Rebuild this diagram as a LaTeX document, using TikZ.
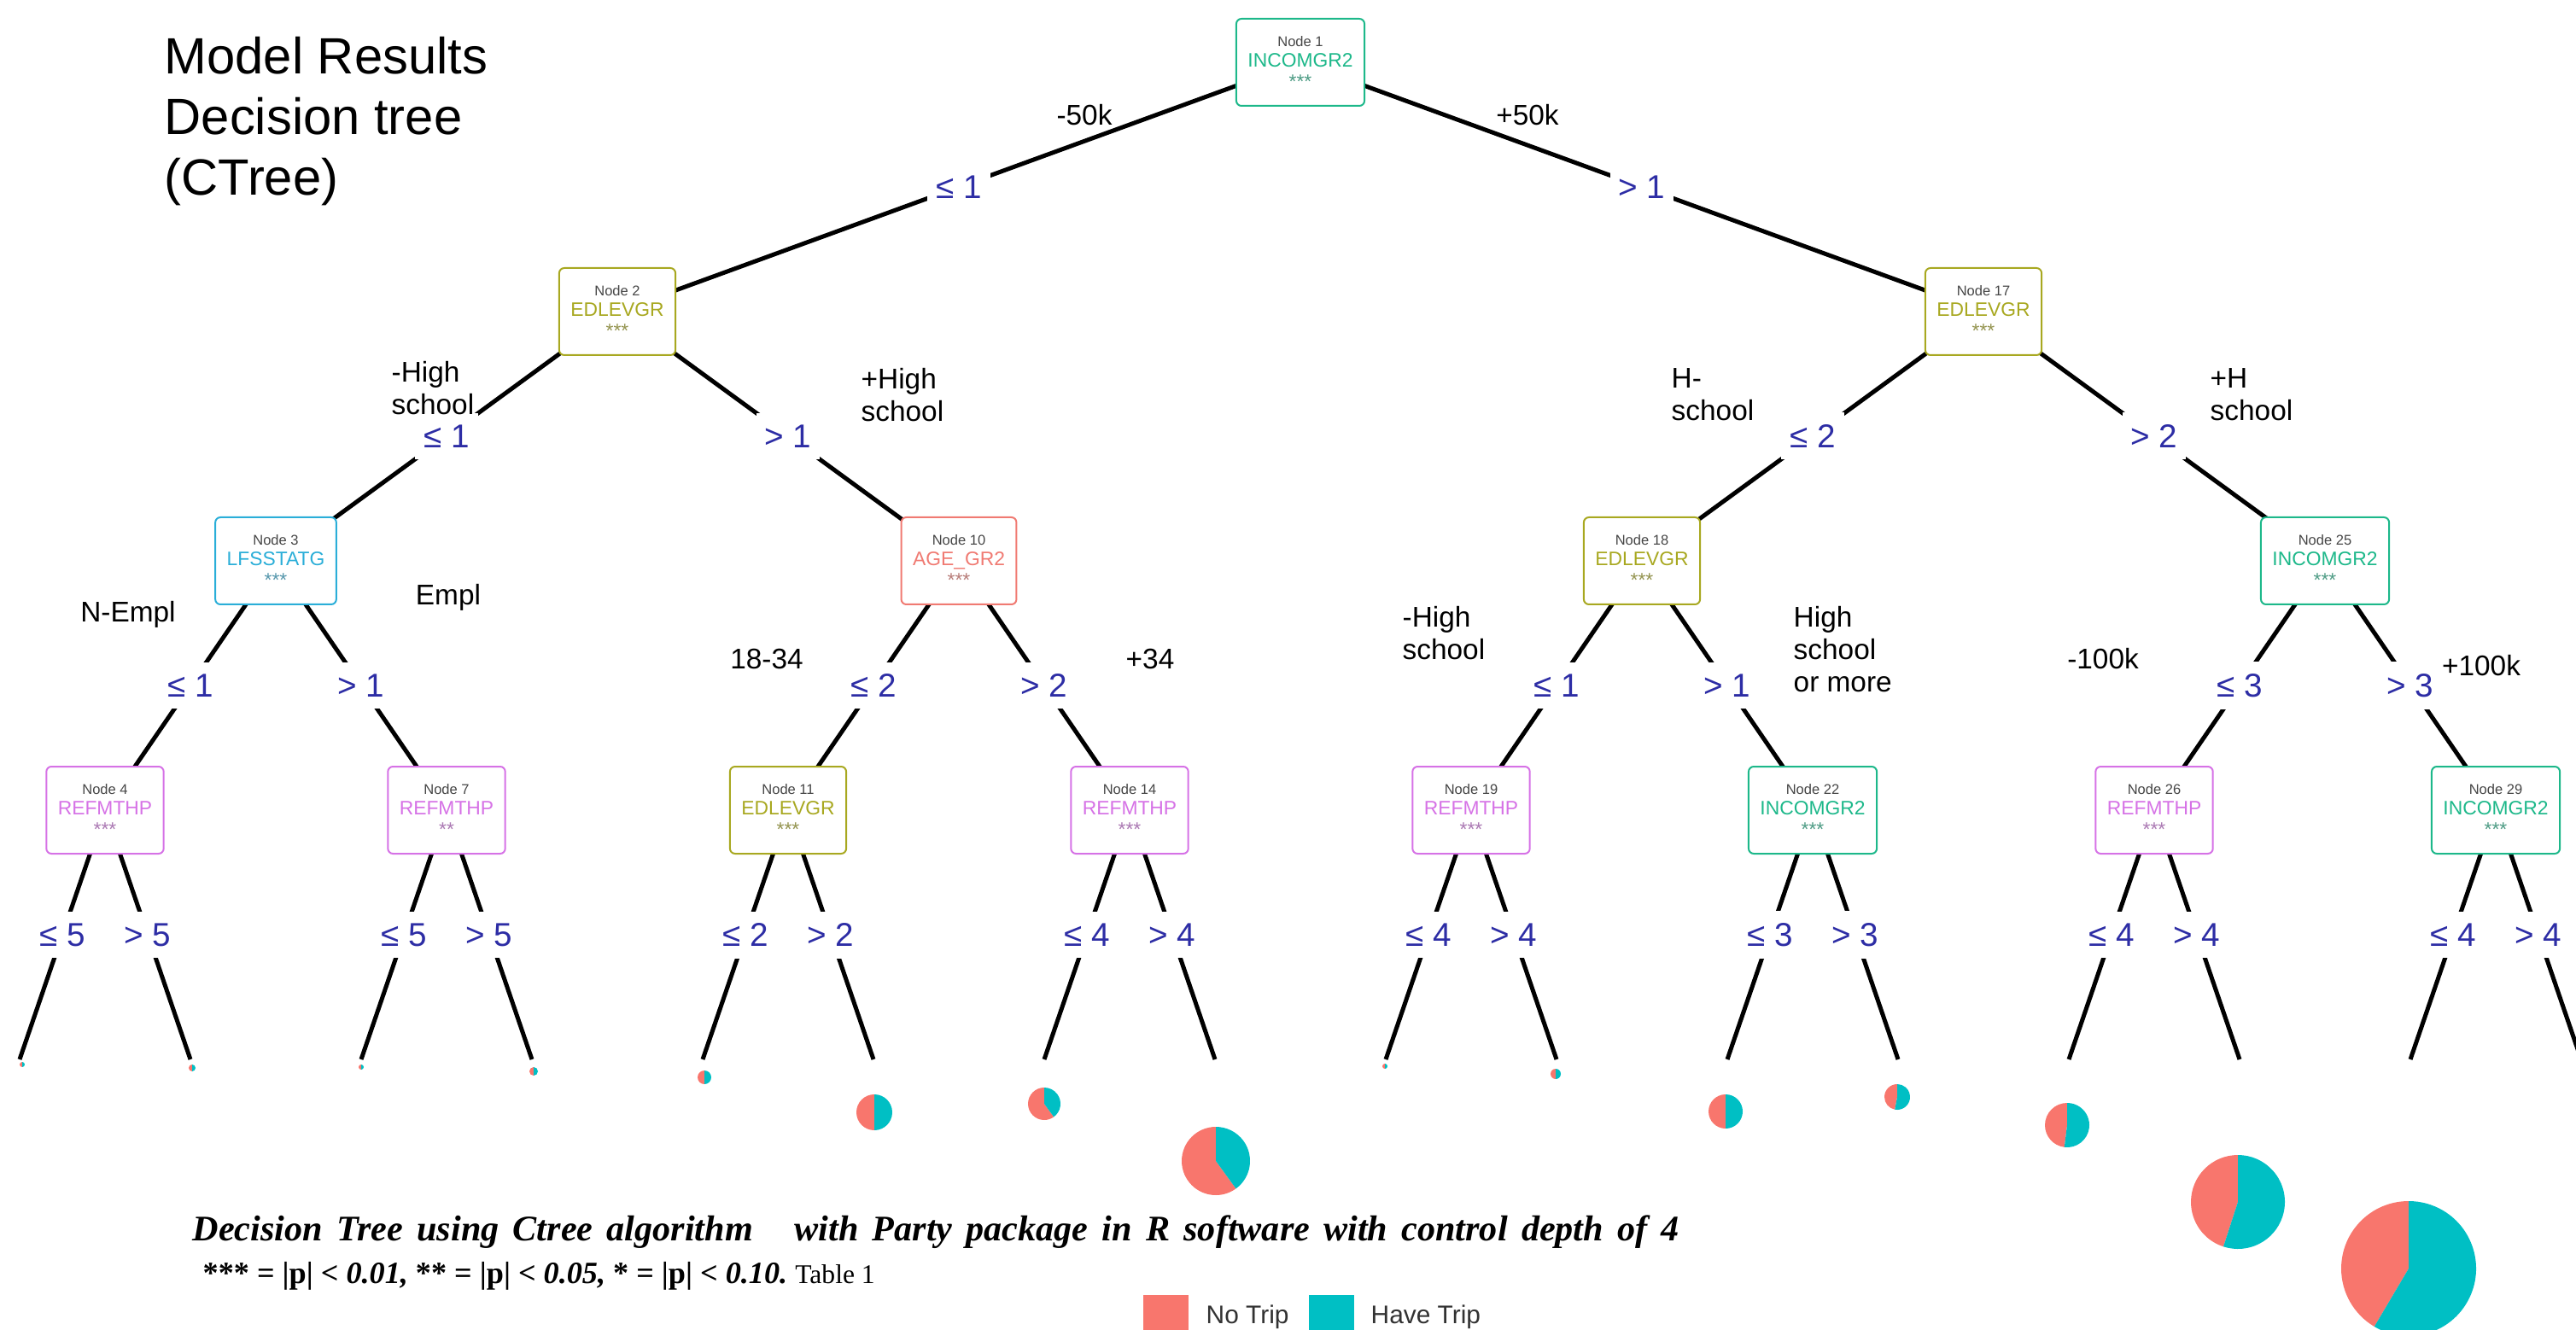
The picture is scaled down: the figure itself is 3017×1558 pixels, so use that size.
\documentclass[tikz,border=0pt]{standalone}
\usepackage{fontspec}
\setmainfont{Liberation Sans}
\newfontfamily\capserif{Liberation Serif}
\usetikzlibrary{backgrounds}

\definecolor{inc}{HTML}{1DB88A}
\definecolor{edu}{HTML}{A8A820}
\definecolor{lfs}{HTML}{2AAED8}
\definecolor{age}{HTML}{F07A72}
\definecolor{ref}{HTML}{D672E6}
\definecolor{notrip}{HTML}{F8766D}
\definecolor{havetrip}{HTML}{00BFC4}
\definecolor{splitblue}{RGB}{45,45,165}
\definecolor{nodegray}{RGB}{70,70,70}
\definecolor{leggray}{RGB}{50,50,50}

\begin{document}
\begin{tikzpicture}[x=0.1mm, y=-0.1mm]
    \tikzstyle{edge}=[line width=0.5mm, black]
    \tikzstyle{splitlab}=[fill=white, text=splitblue, inner xsep=1mm, inner ysep=1.4mm, font=\fontsize{11}{13}\selectfont]
    \tikzstyle{note}=[inner sep=0pt, align=left, font=\fontsize{9.5}{10.8}\selectfont]
    \tikzstyle{legbox}=[minimum size=5.3mm, inner sep=0pt]
    \tikzstyle{legtext}=[anchor=base west, inner sep=0pt, text=leggray, font=\fontsize{8.5}{10}\selectfont]
    \tikzset{%
    varnode/.style={
      draw=#1,
      fill=white,
      rounded corners=0.6mm,
      line width=0.2mm,
      minimum height=10.2mm,
      inner xsep=1.35mm,
      align=center,
      font=\fontsize{6.5}{7.1}\selectfont},
    }

    \useasboundingbox (0,0) rectangle (3017,1558);

    % inner nodes of the tree
    \foreach \n/\x/\y/\lab/\col/\st in {1/1523/73/INCOMGR2/inc/***,
      2/723/365/EDLEVGR/edu/***, 17/2323/365/EDLEVGR/edu/***,
      3/323/657/LFSSTATG/lfs/***, 10/1123/657/AGE\_GR2/age/***,
      18/1923/657/EDLEVGR/edu/***, 25/2723/657/INCOMGR2/inc/***,
      4/123/949/REFMTHP/ref/***, 7/523/949/REFMTHP/ref/**,
      11/923/949/EDLEVGR/edu/***, 14/1323/949/REFMTHP/ref/***,
      19/1723/949/REFMTHP/ref/***, 22/2123/949/INCOMGR2/inc/***,
      26/2523/949/REFMTHP/ref/***, 29/2923/949/INCOMGR2/inc/***}
    \node [varnode=\col] (node-\n) at (\x,\y)
    {{\fontsize{4.7}{7.1}\selectfont\color{nodegray}Node \n}\\ \textcolor{\col}{\lab}\\ \textcolor{\col!50!gray}{\st}};

    % terminal nodes
    \foreach \n [count=\k from 0] in {5,6,8,9,12,13,15,16,20,21,23,24,27,28,30,31}
    \coordinate (node-\n) at (23+200*\k, 1241);

    % Draw the splits
    \begin{scope}[on background layer]
    \foreach \a/\b/\t in {1/2/≤ 1, 1/17/> 1,
      2/3/≤ 1, 2/10/> 1, 17/18/≤ 2, 17/25/> 2,
      3/4/≤ 1, 3/7/> 1, 10/11/≤ 2, 10/14/> 2,
      18/19/≤ 1, 18/22/> 1, 25/26/≤ 3, 25/29/> 3,
      4/5/≤ 5, 4/6/> 5, 7/8/≤ 5, 7/9/> 5,
      11/12/≤ 2, 11/13/> 2, 14/15/≤ 4, 14/16/> 4,
      19/20/≤ 4, 19/21/> 4, 22/23/≤ 3, 22/24/> 3,
      26/27/≤ 4, 26/28/> 4, 29/30/≤ 4, 29/31/> 4}
    \draw [edge] (node-\a.center) -- (node-\b.center)
    node [splitlab, midway] (cut-\a-\b) {\t};
    \end{scope}

    % pies below the terminal nodes
    \foreach \n/\x/\y/\rad/\p in {5/26/1247/0.3/0.5, 6/225/1251/0.4/0.5,
      8/423/1250/0.3/0.5, 9/625/1255/0.5/0.5, 12/825/1262/0.8/0.5,
      13/1024/1303/2.1/0.5, 15/1223/1293/1.9/0.6, 16/1424/1360/4.0/0.6,
      20/1622/1249/0.3/0.5, 21/1822/1258/0.6/0.5, 23/2021/1302/2.0/0.5,
      24/2222/1285/1.5/0.47, 27/2421/1318/2.6/0.48, 28/2621/1408/5.5/0.45,
      30/2821/1486/7.9/0.415}
    {
    \fill [notrip] (\x,\y) -- ++(90:\rad mm) arc [start angle=90, delta angle=360*\p, radius=\rad mm] -- cycle;
    \fill [havetrip] (\x,\y) -- ++(90+360*\p:\rad mm) arc [start angle=90+360*\p, end angle=450, radius=\rad mm] -- cycle;
    }

    % title
    \node [anchor=north west, inner sep=0pt, align=left, font=\fontsize{17}{20.1}\selectfont] (title) at (192,43)
    {Model Results\\Decision tree\\(CTree)};

    % meaning of the splits
    \node [note] (inc-low) at (1270,135) {-50k};
    \node [note] (inc-high) at (1789,135) {+50k};
    \node [note, anchor=north west] (edu-low) at (458,423) {-High\\school};
    \node [note, anchor=north west] (edu-high) at (1008,431) {+High\\school};
    \node [note, anchor=north west] (edu2-low) at (1957,431) {H-\\school};
    \node [note, anchor=north west] (edu2-high) at (2588,431) {+H\\school};
    \node [note] (lfs-low) at (150,720) {N-Empl};
    \node [note] (lfs-high) at (525,700) {Empl};
    \node [note] (age-low) at (898,772) {18-34};
    \node [note] (age-high) at (1347,772) {+34};
    \node [note, anchor=north west] (edu3-low) at (1642,710) {-High\\school};
    \node [note, anchor=north west] (edu3-high) at (2100,710) {High\\school\\or more};
    \node [note] (inc2-low) at (2463,772) {-100k};
    \node [note] (inc2-high) at (2906,780) {+100k};

    % caption
    \node [anchor=base west, inner sep=0pt, font=\capserif\bfseries\itshape\fontsize{12}{15}\selectfont] (caption-1) at (225,1453)
    {\makebox[174.1mm][s]{Decision Tree using Ctree algorithm \ \ with Party package in R software with control depth of 4}};
    \node [anchor=base west, inner sep=0pt, font=\capserif\fontsize{10.3}{13}\selectfont] (caption-2) at (237,1503)
    {\textbf{*** = |p| < \textit{0.01,} ** = |p| < \textit{0.05,} * = |p| < \textit{0.10.}}\ {\fontsize{9}{12}\selectfont Table 1}};

    % legend
    \node [legbox, fill=notrip] (leg-no) at (1365,1543) {};
    \node [legtext] (leg-no-text) at (1412,1550) {No Trip};
    \node [legbox, fill=havetrip] (leg-have) at (1559,1543) {};
    \node [legtext] (leg-have-text) at (1605,1550) {Have Trip};

\end{tikzpicture}
\end{document}
